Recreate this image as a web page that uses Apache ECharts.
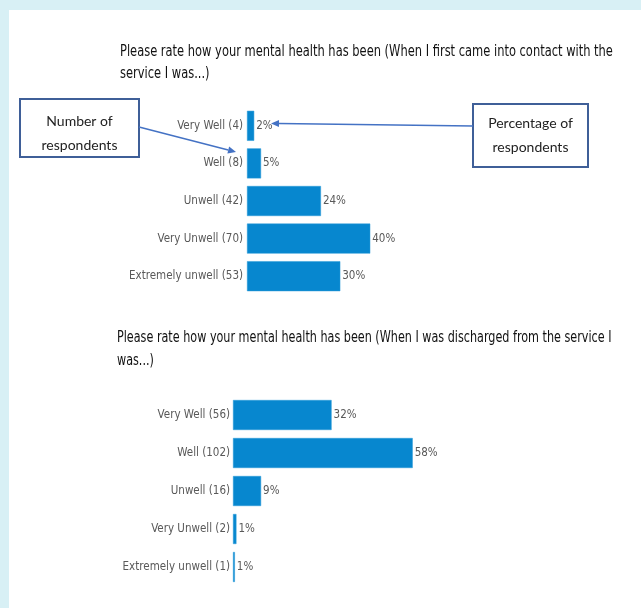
<!DOCTYPE html>
<html>
<head>
<meta charset="utf-8">
<script src="https://cdn.jsdelivr.net/npm/echarts@6/dist/echarts.min.js"></script>
<style>
  html, body { margin: 0; padding: 0; background: #d8f0f5; }
  #chart {
    position: absolute;
    left: 9px;
    top: 10px;
    width: 632px;
    height: 598px;
    background: #fff;
  }
</style>
</head>
<body>
<div id="chart"></div>
<script>
// answer options (same for both questions)
const ratings = ['Very Well', 'Well', 'Unwell', 'Very Unwell', 'Extremely unwell']

// first contact with the service
const countsFirst = [4, 8, 42, 70, 53]
const pctFirst = [2.3, 4.5, 23.7, 39.5, 29.9]

// discharged from the service
const countsDischarge = [56, 102, 16, 2, 1]
const pctDischarge = [31.6, 57.6, 9.0, 1.1, 0.6]

const titleFirst = ['Please rate how your mental health has been (When I first came into contact with the', 'service I was...)']
const titleDischarge = ['Please rate how your mental health has been (When I was discharged from the service I', 'was...)']

const FONT = '"DejaVu Sans Condensed", "Liberation Sans Narrow", sans-serif'
const BAR_COLOR = '#0787cf'
const ARROW_COLOR = '#4472c4'
const BOX_COLOR = '#3f5f98'

const labelsOf = (counts) => ratings.map((r, i) => r + ' (' + counts[i] + ')')

const chart = echarts.init(document.getElementById('chart'))

// arrow = line + small triangle at the tip
const arrow = (x1, y1, x2, y2) => {
  const a = Math.atan2(y2 - y1, x2 - x1)
  const len = 8, half = 3.5
  const bx = x2 - len * Math.cos(a), by = y2 - len * Math.sin(a)
  return [
    {
      type: 'line',
      shape: { x1: x1, y1: y1, x2: bx, y2: by },
      style: { stroke: ARROW_COLOR, lineWidth: 1.5 }
    },
    {
      type: 'polygon',
      shape: {
        points: [
          [x2, y2],
          [bx - half * Math.sin(a), by + half * Math.cos(a)],
          [bx + half * Math.sin(a), by - half * Math.cos(a)]
        ]
      },
      style: { fill: ARROW_COLOR }
    }
  ]
}

const box = (x, y, w, h, text, textY) => ({
  type: 'group',
  children: [
    {
      type: 'rect',
      shape: { x: x, y: y, width: w, height: h },
      style: { fill: '#fff', stroke: BOX_COLOR, lineWidth: 2 }
    },
    {
      type: 'text',
      x: x + w / 2,
      y: textY,
      style: {
        text: text,
        font: '14px Lato, "Open Sans", sans-serif',
        fill: '#222',
        align: 'center',
        verticalAlign: 'middle',
        lineHeight: 24
      }
    }
  ]
})

// narrow title text: condensed font squeezed a little more
const titleLines = (lines, x, y, gap, sx) => lines.map((t, i) => ({
  type: 'text',
  x: x,
  y: y + i * gap,
  scaleX: sx,
  style: {
    text: t,
    font: '15px ' + FONT,
    fill: '#111',
    verticalAlign: 'middle'
  }
}))

const yAxisCommon = {
  type: 'category',
  inverse: true,
  axisLine: { show: false },
  axisTick: { show: false },
  axisLabel: { color: '#595959', fontSize: 11.5, fontFamily: FONT }
}

const barCommon = {
  type: 'bar',
  barWidth: 30,
  itemStyle: { color: BAR_COLOR, borderColor: '#2b9ad8', borderWidth: 0.5 },
  label: {
    show: true,
    position: 'right',
    distance: 2,
    color: '#595959',
    fontSize: 11.5,
    fontFamily: FONT,
    formatter: (p) => Math.round(p.value) + '%'
  }
}

const option = {
  animation: false,
  grid: [
    { left: 238, top: 97, width: 312, height: 188 },
    { left: 224, top: 386, width: 312, height: 190 }
  ],
  xAxis: [
    { type: 'value', gridIndex: 0, min: 0, max: 100, show: false },
    { type: 'value', gridIndex: 1, min: 0, max: 100, show: false }
  ],
  yAxis: [
    Object.assign({}, yAxisCommon, { gridIndex: 0, data: labelsOf(countsFirst), axisLabel: Object.assign({}, yAxisCommon.axisLabel, { margin: 4 }) }),
    Object.assign({}, yAxisCommon, { gridIndex: 1, data: labelsOf(countsDischarge), axisLabel: Object.assign({}, yAxisCommon.axisLabel, { margin: 3 }) })
  ],
  series: [
    Object.assign({}, barCommon, { name: 'first contact', xAxisIndex: 0, yAxisIndex: 0, data: pctFirst }),
    Object.assign({}, barCommon, { name: 'discharged', xAxisIndex: 1, yAxisIndex: 1, data: pctDischarge })
  ],
  graphic: titleLines(titleFirst, 111, 42, 22, 0.85)
    .concat(titleLines(titleDischarge, 108, 328, 23, 0.83))
    .concat([
      box(11, 89, 119, 58, 'Number of\nrespondents', 123),
      box(464, 94, 115, 63, 'Percentage of\nrespondents', 125)
    ])
    .concat(arrow(130, 117, 227, 142))
    .concat(arrow(464, 116, 262, 113.5))
}

chart.setOption(option)
window.addEventListener('resize', chart.resize)
</script>
</body>
</html>
